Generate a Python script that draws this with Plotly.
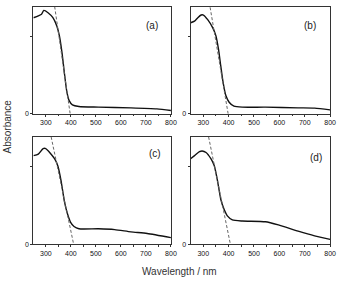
import plotly.graph_objects as go

# ---- data ----
wl_a = [250, 269.5, 282.5, 291.6, 308.5, 328, 343.6, 354, 364.4, 373.5, 384, 393, 406, 432, 510, 640, 744, 800]
ab_a = [1.245, 1.27, 1.29, 1.34, 1.31, 1.245, 1.137, 1.01, 0.79, 0.54, 0.28, 0.17, 0.116, 0.094, 0.086, 0.077, 0.064, 0.043]
wl_b = [250, 265.6, 278.5, 291.5, 300.6, 317.5, 337, 350, 360, 369, 378, 389, 402, 421, 453.6, 544.5, 674, 739, 800]
ab_b = [1.18, 1.20, 1.245, 1.28, 1.28, 1.22, 1.116, 1.01, 0.837, 0.62, 0.41, 0.236, 0.15, 0.099, 0.086, 0.086, 0.077, 0.073, 0.05]
wl_c = [250, 269.5, 289, 299.4, 315, 334.5, 347.5, 360.5, 373.5, 386.5, 399.5, 412.5, 432, 510, 575, 640, 705, 800]
ab_c = [1.14, 1.16, 1.23, 1.23, 1.18, 1.10, 1.01, 0.82, 0.56, 0.39, 0.28, 0.23, 0.20, 0.20, 0.19, 0.16, 0.14, 0.086]
wl_d = [250, 265.6, 285, 295.4, 311, 330, 343.4, 356, 369, 382, 395, 414.7, 453.6, 544.5, 596, 674, 739, 800]
ab_d = [1.10, 1.14, 1.19, 1.20, 1.18, 1.10, 1.01, 0.82, 0.58, 0.45, 0.366, 0.315, 0.30, 0.29, 0.25, 0.17, 0.11, 0.065]
# tangent (band-gap extrapolation) lines: [x0, x1], [y0, y1]
tan_a = ([335, 397], [1.39, 0.0])
tan_b = ([327, 398], [1.38, 0.0])
tan_c = ([321, 411], [1.38, 0.0])
tan_d = ([321, 407], [1.38, 0.0])
panel_labels = ["(a)", "(b)", "(c)", "(d)"]
label_pos = [(725, 1.15), (719, 1.15), (737, 1.17), (746, 1.12)]
x_ticks = [300, 400, 500, 600, 700, 800]

W, H = 341, 282
xdom = [[34 / W, 174 / W], [194 / W, 336 / W]]
ydom = [[1 - 115 / H, 1 - 7 / H], [1 - 247 / H, 1 - 138 / H]]
FONT = "Liberation Sans, Arial"

fig = go.Figure()
panels = [(wl_a, ab_a, tan_a), (wl_b, ab_b, tan_b), (wl_c, ab_c, tan_c), (wl_d, ab_d, tan_d)]
for i, (wl, ab, tan) in enumerate(panels):
    n = i + 1
    xa = "x" if n == 1 else f"x{n}"
    ya = "y" if n == 1 else f"y{n}"
    fig.add_trace(go.Scatter(x=wl, y=ab, mode="lines", line=dict(color="#111111", width=1.4, shape="spline", smoothing=0.6),
                             xaxis=xa, yaxis=ya, showlegend=False, hoverinfo="skip"))
    fig.add_trace(go.Scatter(x=tan[0], y=tan[1], mode="lines", line=dict(color="#666666", width=1, dash="3px,2px"),
                             xaxis=xa, yaxis=ya, showlegend=False, hoverinfo="skip", cliponaxis=True))
    col, row = i % 2, i // 2
    axis_common = dict(showline=True, linecolor="#333333", linewidth=1, mirror=True, showgrid=False, zeroline=False,
                       ticks="outside", ticklen=2, tickcolor="#333333", tickwidth=1,
                       tickfont=dict(family=FONT, size=7, color="#111111"))
    xkey = "xaxis" if n == 1 else f"xaxis{n}"
    ykey = "yaxis" if n == 1 else f"yaxis{n}"
    fig.layout[xkey] = dict(domain=xdom[col], anchor=ya, range=[250, 800], tickvals=x_ticks,
                            minor=dict(tickvals=[350, 450, 550, 650, 750], ticks="outside", ticklen=1.5, tickcolor="#333333"),
                            **axis_common)
    fig.layout[ykey] = dict(domain=ydom[row], anchor=xa, range=[0, 1.385], tickvals=[0, 1], ticktext=["0", ""],
                            **axis_common)
    fig.add_annotation(x=label_pos[i][0], y=label_pos[i][1], xref=xa, yref=ya, text=panel_labels[i],
                       showarrow=False, font=dict(family=FONT, size=10, color="#222222"))

fig.add_annotation(x=183 / W, y=1 - 274 / H, xref="paper", yref="paper", text="Wavelength / nm", showarrow=False,
                   xanchor="center", yanchor="middle",
                   font=dict(family=FONT, size=10, color="#333333"))
fig.add_annotation(x=8 / W, y=1 - 128 / H, xref="paper", yref="paper", text="Absorbance", showarrow=False, textangle=-90,
                   xanchor="center", yanchor="middle",
                   font=dict(family=FONT, size=10, color="#333333"))

fig.update_layout(width=W, height=H, margin=dict(l=0, r=0, t=0, b=0), paper_bgcolor="white", plot_bgcolor="white")
fig.write_html("out.html")
